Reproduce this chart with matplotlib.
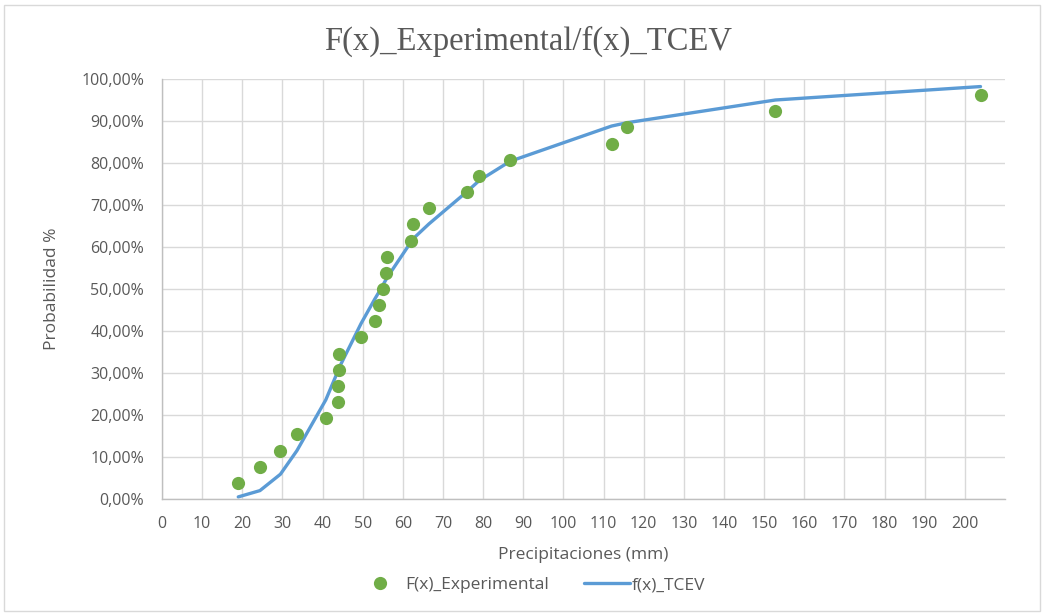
import numpy as np
import matplotlib as mpl
mpl.use('Agg')
import matplotlib.pyplot as plt
from matplotlib.patches import Rectangle
from matplotlib.ticker import FuncFormatter

mpl.rcParams['font.family'] = ['Open Sans', 'DejaVu Sans']

# ---------------------------------------------------------------------------
# data (precipitation in mm, probability in %)
precip = [19.0, 24.4, 29.5, 33.6, 40.8, 43.8, 43.9, 44.0, 44.2, 49.6,
          53.0, 54.0, 55.0, 55.9, 56.0, 62.1, 62.6, 66.5, 76.0, 79.0,
          86.7, 112.0, 115.9, 152.8, 203.9]
F_exp = [3.85, 7.69, 11.54, 15.38, 19.23, 23.08, 26.92, 30.77, 34.62, 38.46,
         42.31, 46.15, 50.00, 53.85, 57.69, 61.54, 65.38, 69.23, 73.08, 76.92,
         80.77, 84.62, 88.46, 92.31, 96.15]
f_tcev = [0.5, 2.0, 5.9, 11.5, 23.6, 30.4, 30.6, 30.9, 31.4, 41.8,
          47.6, 49.2, 50.9, 52.4, 52.6, 61.3, 62.0, 65.5, 73.2, 75.8,
          80.4, 88.8, 89.6, 95.0, 98.2]

xticks = np.arange(0, 201, 10)
yticks = np.arange(0, 101, 10)

gray = '#595959'
fs_tick = 11.5

# ---------------------------------------------------------------------------
fig = plt.figure(figsize=(10.45, 6.13), dpi=100, facecolor='w')
fig.patches.append(Rectangle((4/1045, 2/613), 1036/1045, 606/613, transform=fig.transFigure,
                             fill=False, edgecolor='#d9d9d9', linewidth=1.0))

ax = fig.add_axes([162/1045, 114/613, 843/1045, 420/613])
ax.plot(precip, F_exp, 'o', color='#70AD47', markersize=9.5, markeredgewidth=0,
        label='F(x)_Experimental', zorder=3)
ax.plot(precip, f_tcev, '-', color='#5B9BD5', lw=2.4, solid_capstyle='round',
        solid_joinstyle='round', label='f(x)_TCEV', zorder=2)

ax.set_xlim(0, 210)
ax.set_ylim(0, 100)
ax.set_xticks(xticks)
ax.set_yticks(yticks)
ax.yaxis.set_major_formatter(FuncFormatter(lambda v, p: ('%.2f%%' % v).replace('.', ',')))
ax.grid(True, color='#d9d9d9', linewidth=1.0)
ax.set_axisbelow(True)
for s in ['top', 'right']:
    ax.spines[s].set_visible(False)
for s in ['left', 'bottom']:
    ax.spines[s].set_color('#bfbfbf')
    ax.spines[s].set_linewidth(1.0)
ax.tick_params(length=0, colors=gray, labelsize=fs_tick)
ax.tick_params(axis='y', pad=13)
ax.tick_params(axis='x', pad=12)

ax.set_xlabel('Precipitaciones (mm)', fontsize=12.5, color=gray, labelpad=11)
ax.set_ylabel('Probabilidad %', fontsize=12.5, color=gray, labelpad=15)

fig.text(528/1045, 1 - 41/613, 'F(x)_Experimental/f(x)_TCEV', ha='center', va='center',
         fontsize=23.5, color=gray, family='Liberation Serif')

fig.legend(loc='center', bbox_to_anchor=(531/1045, 1 - 585/613), ncol=2, frameon=False,
           fontsize=12.5, labelcolor=gray, handlelength=2.7, handletextpad=0.1,
           columnspacing=2.0)

plt.savefig('out.png', dpi=100)
